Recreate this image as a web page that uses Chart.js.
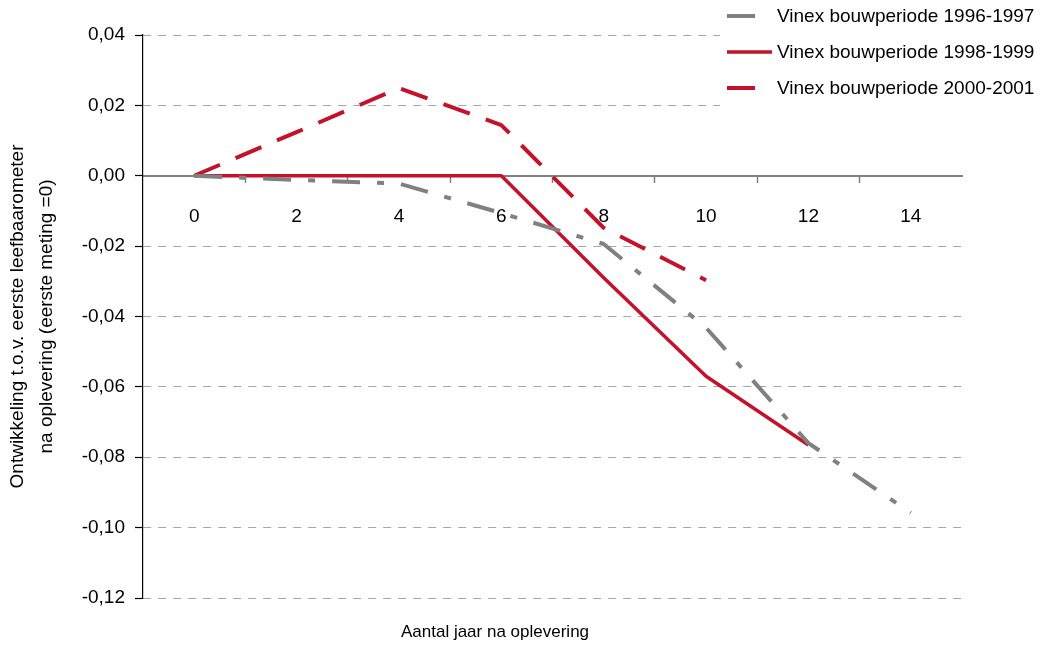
<!DOCTYPE html>
<html lang="nl">
<head>
<meta charset="UTF-8">
<title>Leefbaarometer Vinex</title>
<script src="https://cdn.jsdelivr.net/npm/chart.js"></script>
<style>
  html, body { margin: 0; padding: 0; background: #fff; }
  #wrap { width: 1045px; height: 645px; }
</style>
</head>
<body>
<div id="wrap"><canvas id="chart"></canvas></div>
<script>
// jaren na oplevering
const years = [0, 2, 4, 6, 8, 10, 12, 14];
const vinex9697 = [0, -0.0012, -0.0022, -0.0106, -0.0194, -0.0432, -0.0760, -0.0958];
const vinex9899 = [0, 0, 0, 0, -0.0290, -0.0570, -0.0765, null];
const vinex0001 = [0, 0.0124, 0.0249, 0.0144, -0.0148, -0.0297, null, null];
const seriesNames = ['Vinex bouwperiode 1996-1997', 'Vinex bouwperiode 1998-1999', 'Vinex bouwperiode 2000-2001'];
const xTickLabels = [0, 2, 4, 6, 8, 10, 12, 14];
const yTitle = ['Ontwikkeling t.o.v. eerste leefbaarometer', 'na oplevering (eerste meting =0)'];
const xTitle = 'Aantal jaar na oplevering';

const RED = '#c3122a';
const GREY = '#808080';
const FONT = 'Liberation Sans';

function toPoints(values) {
    return years.map((x, i) => ({ x: x, y: values[i] })).filter(p => p.y !== null);
}

// eigen legenda rechtsboven
const legendPlugin = {
    id: 'vinexLegend',
    afterDraw(chart) {
        const c = chart.ctx;
        c.save();
        c.fillStyle = '#fff';
        c.fillRect(720, 0, 325, 110);
        chart.data.datasets.forEach((ds, i) => {
            const y = 16 + i * 36;
            c.strokeStyle = ds.borderColor;
            c.lineWidth = ds.borderWidth;
            c.setLineDash(ds.borderDash || []);
            c.beginPath();
            c.moveTo(727, y);
            c.lineTo(772, y);
            c.stroke();
            c.setLineDash([]);
            c.fillStyle = '#000';
            c.font = '19px "' + FONT + '"';
            c.textAlign = 'left';
            c.textBaseline = 'middle';
            c.fillText(ds.label, 777, y + 1);
        });
        // x-as titel onderaan
        c.font = '17px "' + FONT + '"';
        c.textAlign = 'center';
        c.fillText(xTitle, 495, 632);
        c.restore();
    }
};

const chart = new Chart(document.getElementById('chart'), {
    type: 'line',
    data: {
        datasets: [{
            label: seriesNames[0],
            data: toPoints(vinex9697),
            borderColor: GREY,
            borderWidth: 4,
            borderDash: [28, 17, 7, 17]
        }, {
            label: seriesNames[1],
            data: toPoints(vinex9899),
            borderColor: RED,
            borderWidth: 3.5
        }, {
            label: seriesNames[2],
            data: toPoints(vinex0001),
            borderColor: RED,
            borderWidth: 4,
            borderDash: [28, 17]
        }]
    },
    options: {
        animation: false,
        responsive: true,
        maintainAspectRatio: false,
        elements: {
            point: { radius: 0 },
            line: { tension: 0, borderJoinStyle: 'round', fill: false }
        },
        layout: { padding: { left: 0, top: 35, right: 83, bottom: 47 } },
        plugins: {
            legend: { display: false },
            tooltip: { enabled: false }
        },
        scales: {
            x: {
                type: 'linear',
                position: { y: 0 },
                min: -1,
                max: 15,
                afterBuildTicks: scale => {
                    const t = [];
                    for (let v = 0; v <= 14; v++) t.push({ value: v });
                    scale.ticks = t;
                },
                ticks: {
                    autoSkip: false,
                    maxRotation: 0,
                    padding: 24,
                    color: '#000',
                    font: { family: FONT, size: 19 },
                    callback: v => xTickLabels.includes(v) ? String(v) : ''
                },
                grid: {
                    drawOnChartArea: false,
                    tickLength: 6,
                    tickWidth: 1.5,
                    tickColor: ctx => (ctx.tick && ctx.tick.value % 2 !== 0) ? GREY : 'rgba(0,0,0,0)'
                },
                border: { display: true, color: GREY, width: 2 }
            },
            y: {
                position: 'left',
                min: -0.12,
                max: 0.04,
                afterFit: scale => { scale.width = 143; },
                ticks: {
                    stepSize: 0.02,
                    padding: 10,
                    color: '#000',
                    font: { family: FONT, size: 19 },
                    callback: v => v.toFixed(2).replace('.', ',')
                },
                grid: {
                    color: ctx => (ctx.tick && Math.abs(ctx.tick.value) < 1e-9) ? 'rgba(0,0,0,0)' : '#a6a6a6',
                    lineWidth: 1,
                    tickLength: 8,
                    tickColor: '#000',
                    tickWidth: 1.2,
                    tickBorderDash: []
                },
                border: { display: true, color: '#000', width: 1.2, dash: [8, 7] },
                title: {
                    display: true,
                    text: yTitle,
                    color: '#000',
                    font: { family: FONT, size: 19, lineHeight: 1.5 },
                    padding: { top: 4, bottom: 0 }
                }
            }
        }
    },
    plugins: [legendPlugin]
});
</script>
</body>
</html>
